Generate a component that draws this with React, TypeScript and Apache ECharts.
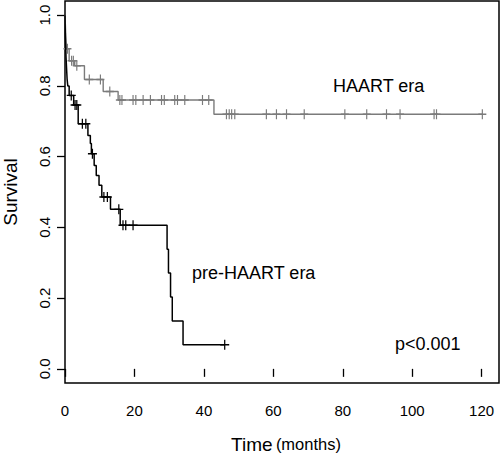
import React, { useEffect, useRef } from "react";
import * as echarts from "echarts";

// HAART era (gray): event times and survival after each event
const haartTimes = [0, 0.2, 0.4, 1.2, 2.8, 5.6, 11.0, 15.3, 42.9];
const haartSurv = [1.0, 0.95, 0.905, 0.871, 0.857, 0.818, 0.784, 0.76, 0.72];
const haartCensor = [
  0.7, 1.9, 2.4, 3.4, 7.0, 10.2, 12.9, 15.8, 16.4, 19.6, 20.4, 22.5, 24.6, 27.8, 28.6,
  31.6, 32.4, 34.5, 39.6, 41.4, 46.5, 47.3, 48.0, 48.9, 58.0, 60.9, 63.8, 68.9,
  80.6, 86.9, 92.6, 96.5, 106.3, 107.0, 120.2,
];
const haartLastFollowUp = 120.2;

// pre-HAART era (black)
const preTimes = [
  0, 0.05, 0.1, 0.2, 0.3, 0.45, 0.6, 0.8, 1.2, 2.5, 3.8, 6.6, 7.3, 7.6, 8.4, 9.0,
  9.8, 10.6, 13.1, 15.9, 29.4, 29.8, 30.4, 30.9, 34.0,
];
const preSurv = [
  1.0, 0.97, 0.94, 0.91, 0.88, 0.85, 0.82, 0.8, 0.773, 0.746, 0.693, 0.66, 0.637,
  0.608, 0.575, 0.547, 0.519, 0.486, 0.451, 0.406, 0.338, 0.271, 0.203, 0.135, 0.068,
];
const preCensor = [1.8, 2.9, 3.4, 5.0, 6.0, 7.9, 11.2, 12.2, 15.5, 16.7, 17.5, 19.6, 46.0];
const preLastFollowUp = 46.0;

const xTicks = [0, 20, 40, 60, 80, 100, 120];
const yTicks = [0, 0.2, 0.4, 0.6, 0.8, 1.0];

const GRAY = "#7b7b7b";
const FONT = "Liberation Sans, Arial, sans-serif";

function stepData(times: number[], surv: number[], last: number) {
  const d = times.map((t, i) => [t, surv[i]]);
  d.push([last, surv[surv.length - 1]]);
  return d;
}
function survAt(times: number[], surv: number[], t: number) {
  let v = surv[0];
  for (let i = 0; i < times.length; i++) if (times[i] <= t) v = surv[i];
  return v;
}
const PLUS = "path://M5,0L5,10M0,5L10,5";

export default function App() {
  const ref = useRef<HTMLDivElement>(null);
  useEffect(() => {
    if (!ref.current) return;
    const chart = echarts.init(ref.current, null, { renderer: "svg" });
    chart.setOption({
      animation: false,
      grid: {
        left: 65,
        right: 1,
        top: 1,
        bottom: 71,
        show: true,
        borderColor: "#000",
        borderWidth: 1.5,
        backgroundColor: "transparent",
      },
      xAxis: {
        type: "value",
        min: 0,
        max: 125,
        axisLine: { show: false },
        splitLine: { show: false },
        axisTick: {
          show: true,
          customValues: xTicks,
          length: 8,
          lineStyle: { color: "#000", width: 1.3 },
        },
        axisLabel: {
          customValues: xTicks,
          color: "#000",
          fontSize: 15,
          fontFamily: FONT,
          margin: 20,
        },
      },
      yAxis: {
        type: "value",
        min: -0.04,
        max: 1.04,
        axisLine: { show: false },
        splitLine: { show: false },
        axisTick: {
          show: true,
          customValues: yTicks,
          length: 8,
          lineStyle: { color: "#000", width: 1.3 },
        },
        axisLabel: {
          customValues: yTicks,
          rotate: 90,
          color: "#000",
          fontSize: 15,
          fontFamily: FONT,
          margin: 13,
          formatter: (v: number) => v.toFixed(1),
        },
      },
      series: [
        {
          type: "line",
          step: "end",
          symbol: "none",
          silent: true,
          data: stepData(haartTimes, haartSurv, haartLastFollowUp),
          lineStyle: { color: GRAY, width: 1.4 },
        },
        {
          type: "scatter",
          silent: true,
          symbol: PLUS,
          symbolSize: [8, 10],
          data: haartCensor.map((t) => [t, survAt(haartTimes, haartSurv, t)]),
          itemStyle: { color: "transparent", borderColor: GRAY, borderWidth: 1.3, opacity: 1 },
        },
        {
          type: "line",
          step: "end",
          symbol: "none",
          silent: true,
          data: stepData(preTimes, preSurv, preLastFollowUp),
          lineStyle: { color: "#000", width: 1.5 },
        },
        {
          type: "scatter",
          silent: true,
          symbol: PLUS,
          symbolSize: [9, 10],
          data: preCensor.map((t) => [t, survAt(preTimes, preSurv, t)]),
          itemStyle: { color: "transparent", borderColor: "#000", borderWidth: 1.3, opacity: 1 },
        },
      ],
      graphic: [
        {
          type: "text",
          left: 333,
          top: 77,
          style: { text: "HAART era", fontSize: 18, fontFamily: FONT, fill: "#000" },
        },
        {
          type: "text",
          left: 192,
          top: 264,
          style: { text: "pre-HAART era", fontSize: 18, fontFamily: FONT, fill: "#000" },
        },
        {
          type: "text",
          left: 395,
          top: 335,
          style: { text: "p<0.001", fontSize: 18, fontFamily: FONT, fill: "#000" },
        },
        {
          type: "text",
          x: 286,
          y: 444,
          style: {
            text: "{a|Time} {b|(months)}",
            align: "center",
            verticalAlign: "middle",
            fill: "#000",
            rich: {
              a: { fontSize: 19, fontFamily: FONT, fill: "#000" },
              b: { fontSize: 16.5, fontFamily: FONT, fill: "#000" },
            },
          },
        },
        {
          type: "text",
          x: 10,
          y: 192,
          rotation: Math.PI / 2,
          style: {
            text: "Survival",
            fontSize: 19,
            fontFamily: FONT,
            fill: "#000",
            align: "center",
            verticalAlign: "middle",
          },
        },
      ],
    });
    return () => chart.dispose();
  }, []);
  return <div ref={ref} style={{ width: 500, height: 454, position: "absolute", left: 0, top: 0 }} />;
}
